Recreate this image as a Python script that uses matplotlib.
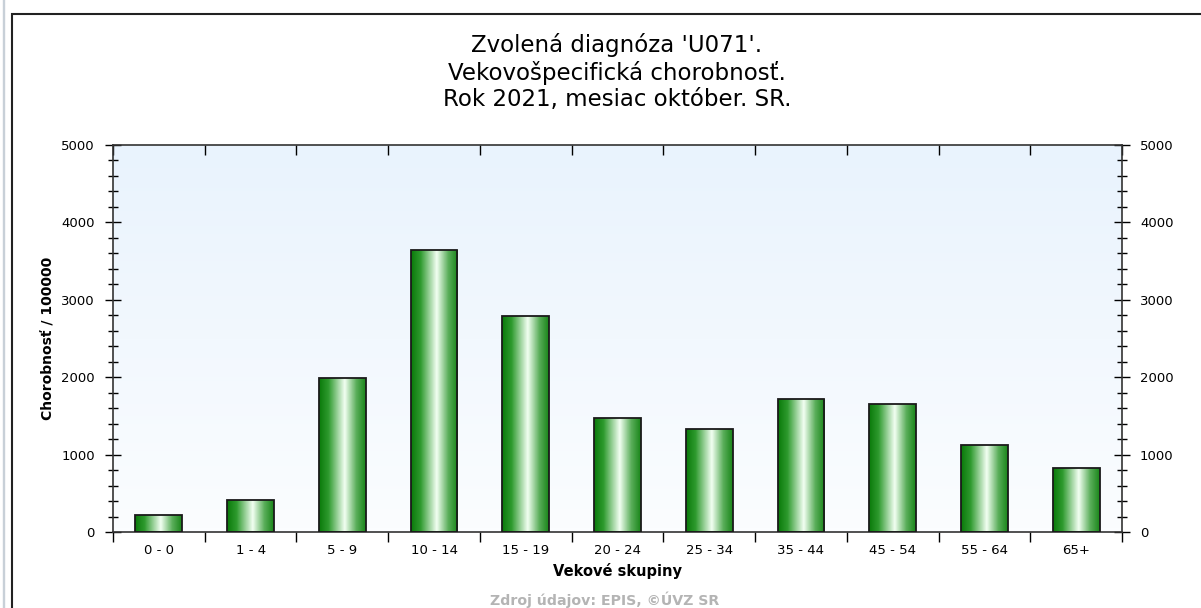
import numpy as np
import matplotlib.pyplot as plt
from matplotlib.colors import LinearSegmentedColormap
from matplotlib.patches import Rectangle
from matplotlib.ticker import MultipleLocator

plt.rcParams['font.family'] = ['DejaVu Sans']

# data
skupiny = ['0 - 0', '1 - 4', '5 - 9', '10 - 14', '15 - 19', '20 - 24',
           '25 - 34', '35 - 44', '45 - 54', '55 - 64', '65+']
chorobnost = [220, 413, 1990, 3645, 2795, 1470, 1331, 1718, 1658, 1128, 831]

titulok = "Zvolená diagnóza 'U071'.\nVekovošpecifická chorobnosť.\nRok 2021, mesiac október. SR."

fig = plt.figure(figsize=(12.01, 6.08), dpi=100)
ax = fig.add_axes([113 / 1201, 1 - 532 / 608, 1009 / 1201, 387 / 608])

# outer frame
fig.patches.append(Rectangle((12 / 1201, -0.01), 1.2, 1 - 14 / 608 + 0.01,
                             transform=fig.transFigure, fill=False,
                             edgecolor='#222222', linewidth=1.5))
fig.patches.append(Rectangle((3 / 1201, -0.01), 0.001, 1.02,
                             transform=fig.transFigure, color='#c8d0d8'))

# background gradient
bg = LinearSegmentedColormap.from_list('bg', ['#fbfdff', '#e9f3fd'])
ax.imshow(np.linspace(0, 1, 100).reshape(-1, 1), aspect='auto', cmap=bg,
          extent=(-0.5, 10.5, 0, 5000), origin='lower', zorder=0)

# bars with horizontal gradient
zel = LinearSegmentedColormap.from_list('zel', [(0, '#0a7a0a'), (0.2, '#2e9a2e'),
                                                (0.55, '#f2fff2'), (0.8, '#5aae5a'),
                                                (1, '#1a861a')])
x = np.arange(len(skupiny))
bars = ax.bar(x, chorobnost, width=0.51, facecolor='none', edgecolor='#1a1a1a',
              linewidth=1.3, zorder=3)
grad = np.linspace(0, 1, 100).reshape(1, -1)
for b in bars:
    im = ax.imshow(grad, aspect='auto', cmap=zel,
                   extent=(b.get_x(), b.get_x() + b.get_width(), 0, b.get_height()),
                   zorder=2)
    im.set_clip_path(b)

ax.set_xlim(-0.5, 10.5)
ax.set_ylim(0, 5000)

# ticks
ax.set_xticks(x)
ax.set_xticklabels(skupiny, fontsize=9.5)
ax.tick_params(axis='x', which='major', length=0, pad=9)
ax.set_xticks(np.arange(-0.5, 11, 1), minor=True)
ax.tick_params(axis='x', which='minor', direction='out', length=7, width=1,
               top=True, bottom=True)

ax.yaxis.set_major_locator(MultipleLocator(1000))
ax.yaxis.set_minor_locator(MultipleLocator(200))
ax.tick_params(axis='y', which='major', direction='inout', length=12, width=1,
               left=True, right=True, labelleft=True, labelright=True,
               labelsize=9.5, pad=7)
ax.tick_params(axis='y', which='minor', direction='inout', length=7, width=1,
               left=True, right=True)
for t in ax.xaxis.get_minor_ticks():
    t.tick2line.set_marker(3)  # pointing down from top
for s in ax.spines.values():
    s.set_color('#333333')
    s.set_linewidth(1.2)

ax.set_xlabel('Vekové skupiny', fontsize=10.5, fontweight='bold', labelpad=4)
ax.set_ylabel('Chorobnosť / 100000', fontsize=10, fontweight='bold', labelpad=4)

fig.text(617 / 1201, 1 - 72 / 608, titulok, ha='center', va='center',
         fontsize=16.5, linespacing=1.2)
fig.text(605 / 1201, 1 - 600 / 608, 'Zdroj údajov: EPIS, ©ÚVZ SR', ha='center',
         va='center', fontsize=10.2, fontweight='bold', color='#b4b4b4')

fig.savefig('out.png', dpi=100)
